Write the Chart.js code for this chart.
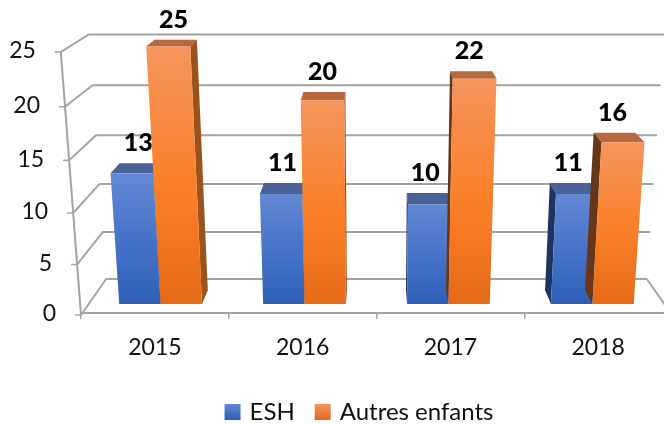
<!DOCTYPE html>
<html><head><meta charset="utf-8">
<script src="https://cdn.jsdelivr.net/npm/chart.js@4"></script>
<style>html,body{margin:0;padding:0;background:#fff}canvas{display:block}</style>
</head><body><canvas id="c" width="664" height="424"></canvas>
<script>
const categories = ['2015', '2016', '2017', '2018'];
const eshValues = [13, 11, 10, 11];
const autresValues = [25, 20, 22, 16];
const seriesNames = ['ESH', 'Autres enfants'];

const FONT = 'Lato, "Open Sans", sans-serif';
const GRID = '#a3a3a3';
const CX = 376, FRONT = 0.306, BACK = 0.69;
const palette = [
  {stops: ['#6488d3', '#4472c8', '#2e5fb6'], top: '#4a6298', left: '#1c3461', right: '#1f3c70'},
  {stops: ['#f5955c', '#fb7f28', '#e46a17'], top: '#b7683f', left: '#65361a', right: '#9c521d'}
];

function project(xFlat, h, d) {
  const s = 1 - 0.085 * d, H = h * (1 - 0.07 * d);
  const x = CX + (xFlat - CX) * s;
  return [x + (x - CX) * 0.00026 * H, 315 - 36 * d - H];
}

class PerspectiveScale extends Chart.LinearScale {
  getPixelForValue(v) {
    const t = (v - this.min) / (this.max - this.min);
    return this.bottom - (this.bottom - this.top) * t * (0.95 + 0.05 * t);
  }
  _computeLabelItems(area) {
    const items = super._computeLabelItems(area);
    items.forEach(it => {
      const y = it.options.translation[1];
      it.options.translation[0] = project(this.right, this.bottom - y, 0)[0] - 25;
      it.options.translation[1] = y + 1;
    });
    return items;
  }
}
PerspectiveScale.id = 'perspective';
PerspectiveScale.defaults = Chart.LinearScale.defaults;
Chart.register(PerspectiveScale);

class FloorCategoryScale extends Chart.CategoryScale {
  configure() {
    this.right = this.left + 591;
    this.width = 591;
    super.configure();
  }
}
FloorCategoryScale.id = 'floorCategory';
FloorCategoryScale.defaults = Chart.CategoryScale.defaults;
Chart.register(FloorCategoryScale);

function poly(ctx, pts, fill) {
  ctx.beginPath();
  pts.forEach((p, i) => i ? ctx.lineTo(p[0], p[1]) : ctx.moveTo(p[0], p[1]));
  ctx.closePath();
  ctx.fillStyle = fill;
  ctx.fill();
}
function line(ctx, pts) {
  ctx.beginPath();
  pts.forEach((p, i) => i ? ctx.lineTo(p[0], p[1]) : ctx.moveTo(p[0], p[1]));
  ctx.stroke();
}

const perspectivePlugin = {
  id: 'perspective3d',
  afterLayout(chart) {
    const lg = chart.legend;
    lg.left += 28.5; lg.right += 28.5;
    lg.top = 377; lg.bottom = 424;
  },
  beforeDatasetsDraw(chart) {
    const ctx = chart.ctx, yS = chart.scales.y, xS = chart.scales.x;
    const right = xS.right, left = xS.left, base = yS.bottom;
    ctx.save();
    ctx.lineJoin = 'round';
    ctx.strokeStyle = GRID;
    ctx.lineWidth = 2;
    ctx.beginPath();
    ctx.rect(0, 0, chart.width, chart.height);
    ctx.clip();
    yS.ticks.forEach(t => {
      const h = base - yS.getPixelForValue(t.value);
      line(ctx, [project(left, h, 0), project(left, h, 1), project(right, h, 1)]);
      const f = project(left, h, 0);
      ctx.lineWidth = 1.5;
      line(ctx, [[f[0] - 6, f[1]], f]);
      ctx.lineWidth = 2;
    });
    const hTop = base - yS.getPixelForValue(yS.max);
    line(ctx, [project(left, 0, 0), project(left, hTop, 0)]);
    line(ctx, [project(right, 0, 1), project(right, 0, 0)]);

    const labels = [];
    chart.data.datasets.forEach((ds, di) => {
      const c = palette[di];
      chart.getDatasetMeta(di).data.forEach((el, i) => {
        const h = el.base - el.y, l = el.x - el.width / 2, r = el.x + el.width / 2;
        const fbl = project(l, 0, FRONT), fbr = project(r, 0, FRONT);
        const ftl = project(l, h, FRONT), ftr = project(r, h, FRONT);
        const bbl = project(l, 0, BACK), bbr = project(r, 0, BACK);
        const btl = project(l, h, BACK), btr = project(r, h, BACK);
        poly(ctx, [ftl, ftr, btr, btl], c.top);
        if (btl[0] < ftl[0] || bbl[0] < fbl[0]) poly(ctx, [ftl, fbl, bbl, btl], c.left);
        if (btr[0] > ftr[0] || bbr[0] > fbr[0]) poly(ctx, [ftr, fbr, bbr, btr], c.right);
        const g = ctx.createLinearGradient(0, ftl[1], 0, fbl[1]);
        g.addColorStop(0, c.stops[0]);
        g.addColorStop(0.55, c.stops[1]);
        g.addColorStop(1, c.stops[2]);
        poly(ctx, [ftl, ftr, fbr, fbl], g);
        labels.push([String(ds.data[i]), (btl[0] + btr[0]) / 2 - 2, btl[1] - 20]);
      });
    });
    ctx.fillStyle = '#000';
    ctx.font = '900 25px ' + FONT;
    ctx.textAlign = 'center';
    ctx.textBaseline = 'middle';
    labels.forEach(a => ctx.fillText(a[0], a[1], a[2]));
    ctx.restore();
    return false;
  }
};

function legendLabels(chart) {
  const ctx = chart.ctx;
  return chart.data.datasets.map((ds, i) => {
    const g = ctx.createLinearGradient(0, 404, 0, 420);
    g.addColorStop(0, palette[i].stops[0]);
    g.addColorStop(1, palette[i].stops[2]);
    return {text: ds.label, fillStyle: g, strokeStyle: g, lineWidth: 6, datasetIndex: i, fontColor: '#111'};
  });
}

new Chart(document.getElementById('c'), {
  type: 'bar',
  data: {
    labels: categories,
    datasets: [
      {label: seriesNames[0], data: eshValues, backgroundColor: palette[0].stops[1]},
      {label: seriesNames[1], data: autresValues, backgroundColor: palette[1].stops[1]}
    ]
  },
  options: {
    responsive: false,
    animation: false,
    categoryPercentage: 0.575,
    barPercentage: 1,
    layout: {padding: {left: 0, right: 0, top: 50, bottom: 0}},
    scales: {
      x: {
        type: 'floorCategory',
        grid: {drawOnChartArea: false, tickLength: 6, color: GRID, lineWidth: 1.5},
        border: {color: GRID, width: 2},
        ticks: {color: '#111', font: {family: FONT, size: 23}, padding: 15, maxRotation: 0, autoSkip: false},
        afterFit(s) { s.height = 54; }
      },
      y: {
        type: 'perspective',
        min: 0, max: 25,
        grid: {display: false},
        border: {display: false},
        ticks: {stepSize: 5, color: '#111', font: {family: FONT, size: 23}},
        afterFit(s) { s.width = 81; }
      }
    },
    plugins: {
      tooltip: {enabled: false},
      legend: {
        position: 'bottom',
        labels: {
          boxWidth: 10, boxHeight: 10, padding: 23,
          color: '#111',
          font: {family: FONT, size: 24},
          generateLabels: legendLabels
        }
      }
    }
  },
  plugins: [perspectivePlugin]
});
</script>
</body></html>
